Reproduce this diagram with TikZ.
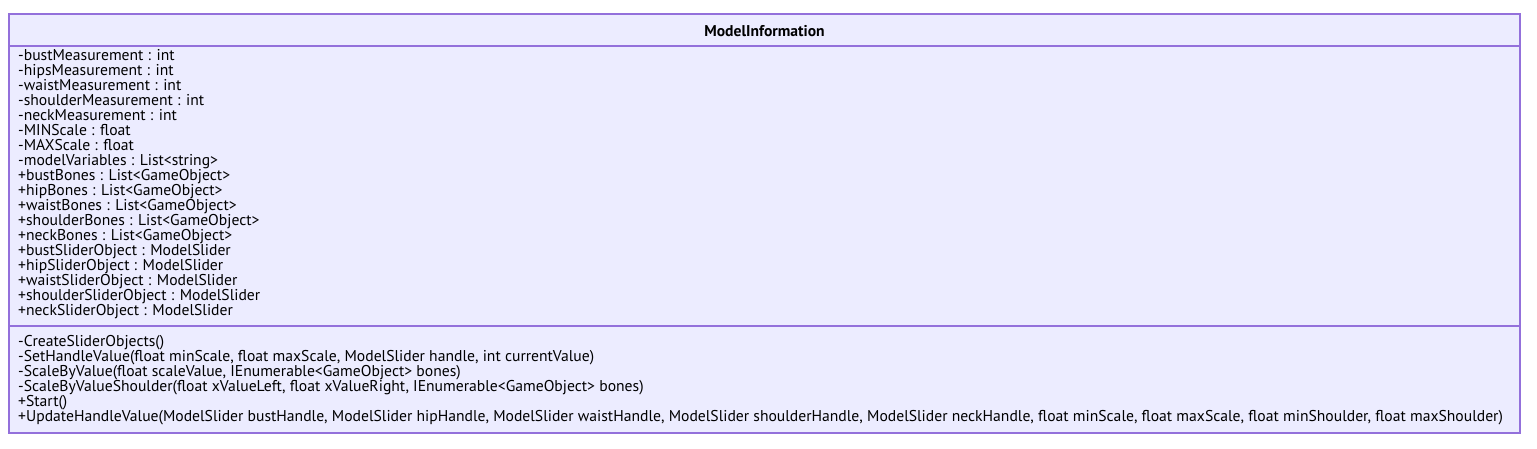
\documentclass[tikz,border=0pt]{standalone}
\usepackage{fontspec}
\setmainfont{PT Sans}
\usepackage{tikz}
\definecolor{classfill}{HTML}{ECECFF}
\definecolor{classline}{HTML}{9370DB}
\tikzstyle{members} = [anchor=north west,align=left,inner sep=0pt,font=\fontsize{15.65}{15}\selectfont]

\begin{document}
\begin{tikzpicture}[x=1pt,y=-1pt]
\useasboundingbox (0,0) rectangle (1537,449);
\draw[classline,fill=classfill,line width=1.6pt] (9,14) rectangle (1520,433);
\draw[classline,line width=1.6pt] (9,46)--(1520,46);
\draw[classline,line width=1.6pt] (9,326)--(1520,326);
\node[font=\bfseries\fontsize{15.6}{15}\selectfont] (name) at (764.5,31) {ModelInformation};
\node[members] (attrs) at (18,49.5) {-bustMeasurement : int\\
-hipsMeasurement : int\\
-waistMeasurement : int\\
-shoulderMeasurement : int\\
-neckMeasurement : int\\
-MINScale : float\\
-MAXScale : float\\
-modelVariables : List<string>\\
+bustBones : List<GameObject>\\
+hipBones : List<GameObject>\\
+waistBones : List<GameObject>\\
+shoulderBones : List<GameObject>\\
+neckBones : List<GameObject>\\
+bustSliderObject : ModelSlider\\
+hipSliderObject : ModelSlider\\
+waistSliderObject : ModelSlider\\
+shoulderSliderObject : ModelSlider\\
+neckSliderObject : ModelSlider};
\node[members] (ops) at (18,335.5) {-CreateSliderObjects()\\
-SetHandleValue(float minScale, float maxScale, ModelSlider handle, int currentValue)\\
-ScaleByValue(float scaleValue, IEnumerable<GameObject> bones)\\
-ScaleByValueShoulder(float xValueLeft, float xValueRight, IEnumerable<GameObject> bones)\\
+Start()\\
+UpdateHandleValue(ModelSlider bustHandle, ModelSlider hipHandle, ModelSlider waistHandle, ModelSlider shoulderHandle, ModelSlider neckHandle, float minScale, float maxScale, float minShoulder, float maxShoulder)};
\end{tikzpicture}
\end{document}
